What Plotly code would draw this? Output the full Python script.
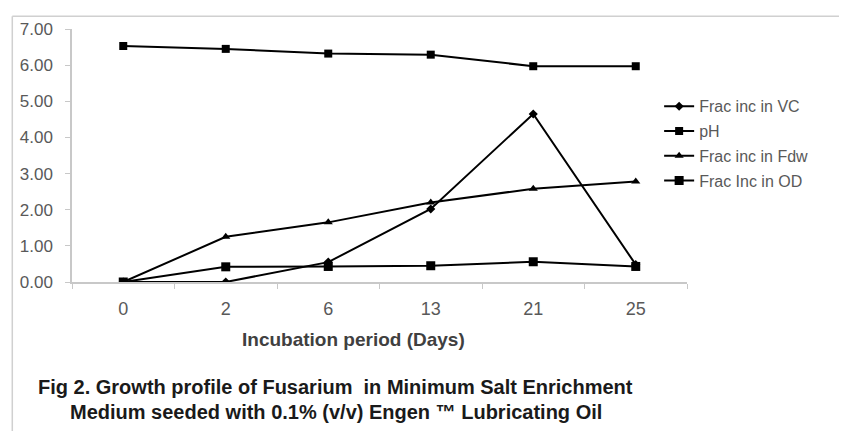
import plotly.graph_objects as go

days = ["0", "2", "6", "13", "21", "25"]
vc = [0.0, 0.0, 0.55, 2.02, 4.65, 0.48]
ph = [6.53, 6.45, 6.32, 6.29, 5.97, 5.97]
fdw = [0.0, 1.25, 1.65, 2.2, 2.58, 2.78]
od = [0.0, 0.42, 0.43, 0.45, 0.56, 0.43]
y_ticks = [0, 1, 2, 3, 4, 5, 6, 7]

FONT = "Liberation Sans, Arial, sans-serif"

fig = go.Figure()
series = [
    ("Frac inc in VC", vc, "diamond", 7),
    ("pH", ph, "square", 8),
    ("Frac inc in Fdw", fdw, "triangle-up", 8),
    ("Frac Inc in OD", od, "square", 9),
]
for i, (name, vals, sym, sz) in enumerate(series):
    fig.add_trace(go.Scatter(
        x=days, y=vals, name=name, mode="lines+markers",
        legendgroup=f"g{i}",
        line=dict(color="black", width=2),
        marker=dict(symbol=sym, size=sz, color="black"),
    ))

# the page body adds an 8px margin; work in screen pixels and shift
OFF = 8
W, H = 847 - OFF, 431 - OFF
L = 69 - OFF
T = 26 - OFF
Rpx = 687 - OFF
Bpx = 282 - OFF
pw, ph_ = Rpx - L, Bpx - T


def px(x):
    return (x - OFF - L) / pw


def py(y):
    return (Bpx - (y - OFF)) / ph_


fig.update_layout(
    width=W, height=H,
    margin=dict(l=L, r=W - Rpx, t=T, b=H - Bpx),
    paper_bgcolor="white", plot_bgcolor="white",
    font=dict(family=FONT, color="#595959", size=13),
    showlegend=True,
    legend=dict(x=px(659), y=py(87), xanchor="left", yanchor="top",
                font=dict(size=16, color="#595959", family=FONT),
                bgcolor="rgba(0,0,0,0)", tracegroupgap=1,
                borderwidth=0),
    xaxis=dict(type="category", range=[-0.5, 5.5], tickson="boundaries",
               showline=True, linecolor="#c8c8c8", linewidth=1.5,
               ticks="outside", ticklen=5, tickcolor="#c8c8c8",
               ticklabelstandoff=10,
               showgrid=False, zeroline=False,
               tickfont=dict(size=18, color="#595959", family=FONT)),
    yaxis=dict(range=[0, 7], tickvals=y_ticks, tickformat=".2f",
               showline=True, linecolor="#c8c8c8", linewidth=1.5,
               ticks="outside", ticklen=5, tickcolor="#c8c8c8",
               ticklabelstandoff=9,
               showgrid=False, zeroline=False,
               tickfont=dict(size=17, color="#595959", family=FONT)),
    shapes=[
        dict(type="line", xref="paper", yref="paper",
             x0=px(9), x1=px(900), y0=py(13), y1=py(13),
             line=dict(color="#d0d0d0", width=1.5)),
        dict(type="line", xref="paper", yref="paper",
             x0=px(9), x1=px(9), y0=py(13), y1=py(500),
             line=dict(color="#d0d0d0", width=1.5)),
    ],
    annotations=[
        dict(text="<b>Incubation period (Days)</b>", xref="paper", yref="paper",
             x=px(352), y=py(340), xanchor="center", yanchor="middle",
             showarrow=False,
             font=dict(size=19, color="#404040", family=FONT)),
        dict(text="<b>Fig 2. Growth profile of Fusarium  in Minimum Salt Enrichment</b>",
             xref="paper", yref="paper", x=px(334), y=py(388),
             xanchor="center", yanchor="middle", showarrow=False,
             font=dict(size=20, color="#1a1a1a", family=FONT)),
        dict(text="<b>Medium seeded with 0.1% (v/v) Engen \u2122 Lubricating Oil</b>",
             xref="paper", yref="paper", x=px(334), y=py(414),
             xanchor="center", yanchor="middle", showarrow=False,
             font=dict(size=20, color="#1a1a1a", family=FONT)),
    ],
)

fig.write_html("out.html")
